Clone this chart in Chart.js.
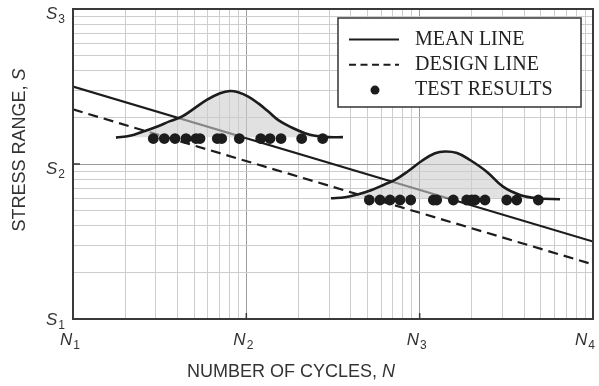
<!DOCTYPE html>
<html>
<head>
<meta charset="utf-8">
<script src="https://cdn.jsdelivr.net/npm/chart.js"></script>
<style>
  html, body { margin: 0; padding: 0; background: #fff; }
</style>
</head>
<body>
<canvas id="sn" width="599" height="386"></canvas>
<script>
// decade ticks on both axes
const cycleTicks = [1e4, 1e5, 1e6, 1e7];
const cycleLabels = ['N1', 'N2', 'N3', 'N4'];
const stressTicks = [10, 100, 1000];
const stressLabels = ['S1', 'S2', 'S3'];

// S-N lines (end points)
const lineCycles = [1e4, 1e7];
const meanStress = [316, 31.6];
const designStress = [225, 22.5];

// test results, upper stress level
const upperLevel = 146;
const upperCycles = [29060, 33630, 38780, 44870, 51240, 54040, 68000, 72100, 91070,
  121000, 136900, 158500, 208600, 275800];

// test results, lower stress level
const lowerLevel = 58.6;
const lowerCycles = [512300, 590500, 674500, 770200, 887800, 1199000, 1254000, 1564000,
  1868000, 1996000, 2086000, 2382000, 3179000, 3630000, 4836000];

// scatter distributions drawn over each group
const upperCurveCycles = [17700, 21300, 25400, 30400, 36300, 42400, 49400, 59100, 70500,
  80500, 89900, 102600, 117300, 133900, 152900, 182700, 218000, 249000, 297000, 361000];
const upperCurveStress = [148, 152, 162, 174, 189, 202, 226, 259, 286,
  296, 290, 272, 246, 218, 192, 172, 158, 152, 149, 149];
const upperCurveBase = 149;

const lowerCurveCycles = [308000, 370900, 442600, 528800, 631000, 720600, 860000, 1027000,
  1226000, 1401000, 1643000, 1952000, 2437000, 3026000, 3793000, 4734000, 6452000];
const lowerCurveStress = [60.1, 61.0, 63.8, 68.0, 74.0, 78.9, 90.1, 104.6,
  117.2, 120.5, 117.8, 106.1, 89.2, 71.4, 63.1, 60.1, 59.2];
const lowerCurveBase = 60;

const INK = '#1c1c1c';
const SHADE = 'rgba(205,205,205,0.6)';

const pairs = (xs, ys) => xs.map((x, i) => ({ x, y: ys[i] }));
const level = (xs, y) => xs.map(x => ({ x, y }));

const isDecade = v => Math.abs(Math.log10(v) - Math.round(Math.log10(v))) < 1e-9;

// 1..9 in every decade, no extra 1.5 ticks
function logGrid(scale) {
  const ticks = [];
  const lo = Math.round(Math.log10(scale.min));
  const hi = Math.round(Math.log10(scale.max));
  for (let e = lo; e < hi; e++) {
    for (let k = 1; k < 10; k++) ticks.push({ value: k * Math.pow(10, e), major: k === 1 });
  }
  ticks.push({ value: Math.pow(10, hi), major: true });
  scale.ticks = ticks;
}

const gridColor = c => (c.tick && isDecade(c.tick.value)) ? '#9c9c9c' : '#cdcdcd';

// letter in italic with a small upright index
function subLabel(ctx, text, x, y, align) {
  const main = text[0], sub = text.slice(1);
  ctx.font = 'italic 17px "Liberation Sans"';
  const wm = ctx.measureText(main).width;
  ctx.font = '12px "Liberation Sans"';
  const ws = ctx.measureText(sub).width;
  const w = wm + ws + 1;
  let left = align === 'right' ? x - w : x - w / 2;
  ctx.font = 'italic 17px "Liberation Sans"';
  ctx.fillText(main, left, y);
  ctx.font = '12px "Liberation Sans"';
  ctx.fillText(sub, left + wm + 1, y + 4);
  return w;
}

const axisText = {
  id: 'axisText',
  afterDraw(chart) {
    const { ctx, chartArea: a, scales } = chart;
    ctx.save();
    ctx.fillStyle = '#333';
    ctx.textBaseline = 'alphabetic';
    ctx.textAlign = 'left';

    cycleTicks.forEach((v, i) => {
      let x = scales.x.getPixelForValue(v) - 3;
      x = Math.min(x, chart.width - 14);
      subLabel(ctx, cycleLabels[i], x, a.bottom + 26, 'center');
    });
    stressTicks.forEach((v, i) => {
      const y = Math.min(scales.y.getPixelForValue(v) + 10, a.bottom + 6);
      subLabel(ctx, stressLabels[i], a.left - 8, y, 'right');
    });

    // axis titles, symbol in italic
    const title = (plain, sym, cx, cy, rot) => {
      ctx.save();
      ctx.translate(cx, cy);
      ctx.rotate(rot);
      ctx.textBaseline = 'middle';
      ctx.font = '18px "Liberation Sans"';
      const wp = ctx.measureText(plain).width;
      ctx.font = 'italic 18px "Liberation Sans"';
      const wi = ctx.measureText(sym).width;
      const left = -(wp + wi) / 2;
      ctx.font = '18px "Liberation Sans"';
      ctx.fillText(plain, left, 0);
      ctx.font = 'italic 18px "Liberation Sans"';
      ctx.fillText(sym, left + wp, 0);
      ctx.restore();
    };
    title('NUMBER OF CYCLES, ', 'N', 291, a.bottom + 53, 0);
    title('STRESS RANGE, ', 'S', 20, 150, -Math.PI / 2);
    ctx.restore();
  }
};

const frameAndLegend = {
  id: 'frameAndLegend',
  afterDatasetsDraw(chart) {
    const { ctx, chartArea: a, scales } = chart;
    ctx.save();

    // frame with short inner ticks at the inner decades
    ctx.strokeStyle = '#3a3a3a';
    ctx.lineWidth = 2;
    ctx.strokeRect(a.left, a.top, a.width, a.height);
    ctx.lineWidth = 1.5;
    ctx.beginPath();
    cycleTicks.slice(1, -1).forEach(v => {
      const x = scales.x.getPixelForValue(v);
      ctx.moveTo(x, a.bottom); ctx.lineTo(x, a.bottom - 6);
    });
    stressTicks.slice(1, -1).forEach(v => {
      const y = scales.y.getPixelForValue(v);
      ctx.moveTo(a.left, y); ctx.lineTo(a.left + 7, y);
    });
    ctx.stroke();

    // legend box
    const w = 243, h = 89;
    const x0 = a.right - 12 - w, y0 = a.top + 9;
    ctx.fillStyle = '#fff';
    ctx.fillRect(x0, y0, w, h);
    ctx.strokeStyle = '#333';
    ctx.lineWidth = 1.5;
    ctx.strokeRect(x0, y0, w, h);

    const items = chart.data.datasets.filter(d => d.inLegend);
    ctx.font = '20px "Liberation Serif"';
    ctx.textBaseline = 'alphabetic';
    items.forEach((d, i) => {
      const base = y0 + 26.5 + i * 25.3;
      const sy = base - 5;
      ctx.strokeStyle = d.borderColor;
      ctx.fillStyle = d.borderColor;
      if (d.showLine === false) {
        ctx.beginPath();
        ctx.arc(x0 + 37, sy, 4.5, 0, Math.PI * 2);
        ctx.fill();
      } else {
        ctx.lineWidth = 2;
        ctx.setLineDash(d.borderDash ? [7, 4.5] : []);
        ctx.beginPath();
        ctx.moveTo(x0 + 11, sy); ctx.lineTo(x0 + 61, sy);
        ctx.stroke();
        ctx.setLineDash([]);
      }
      ctx.fillStyle = '#222';
      ctx.fillText(d.label, x0 + 77, base);
    });
    ctx.restore();
  }
};

new Chart(document.getElementById('sn'), {
  type: 'line',
  data: {
    datasets: [
      {
        label: 'MEAN LINE', inLegend: true, order: 3,
        data: pairs(lineCycles, meanStress),
        borderColor: INK, borderWidth: 2.2, pointRadius: 0, fill: false
      },
      {
        label: 'DESIGN LINE', inLegend: true, order: 3,
        data: pairs(lineCycles, designStress),
        borderColor: INK, borderWidth: 2.2, borderDash: [10, 6], pointRadius: 0, fill: false
      },
      {
        label: 'upper spread', order: 2,
        data: pairs(upperCurveCycles, upperCurveStress),
        borderColor: INK, borderWidth: 2.6, pointRadius: 0, tension: 0.4,
        backgroundColor: SHADE, fill: { value: upperCurveBase }
      },
      {
        label: 'lower spread', order: 2,
        data: pairs(lowerCurveCycles, lowerCurveStress),
        borderColor: INK, borderWidth: 2.6, pointRadius: 0, tension: 0.4,
        backgroundColor: SHADE, fill: { value: lowerCurveBase }
      },
      {
        label: 'TEST RESULTS', inLegend: true, order: 1,
        data: level(upperCycles, upperLevel).concat(level(lowerCycles, lowerLevel)),
        showLine: false, borderColor: INK, backgroundColor: INK,
        pointRadius: 5.4, pointBorderWidth: 0
      }
    ]
  },
  options: {
    responsive: false,
    animation: false,
    layout: { padding: { left: 73, top: 9, right: 6, bottom: 67 } },
    plugins: {
      legend: { display: false },
      tooltip: { enabled: false },
      filler: { drawTime: 'beforeDatasetDraw' }
    },
    scales: {
      x: {
        type: 'logarithmic', min: 1e4, max: 1e7,
        afterBuildTicks: logGrid,
        ticks: { display: false },
        border: { display: false },
        grid: { color: gridColor, lineWidth: 1, drawTicks: false }
      },
      y: {
        type: 'logarithmic', min: 10, max: 1000,
        afterBuildTicks: logGrid,
        ticks: { display: false },
        border: { display: false },
        grid: { color: gridColor, lineWidth: 1, drawTicks: false }
      }
    }
  },
  plugins: [frameAndLegend, axisText]
});
</script>
</body>
</html>
